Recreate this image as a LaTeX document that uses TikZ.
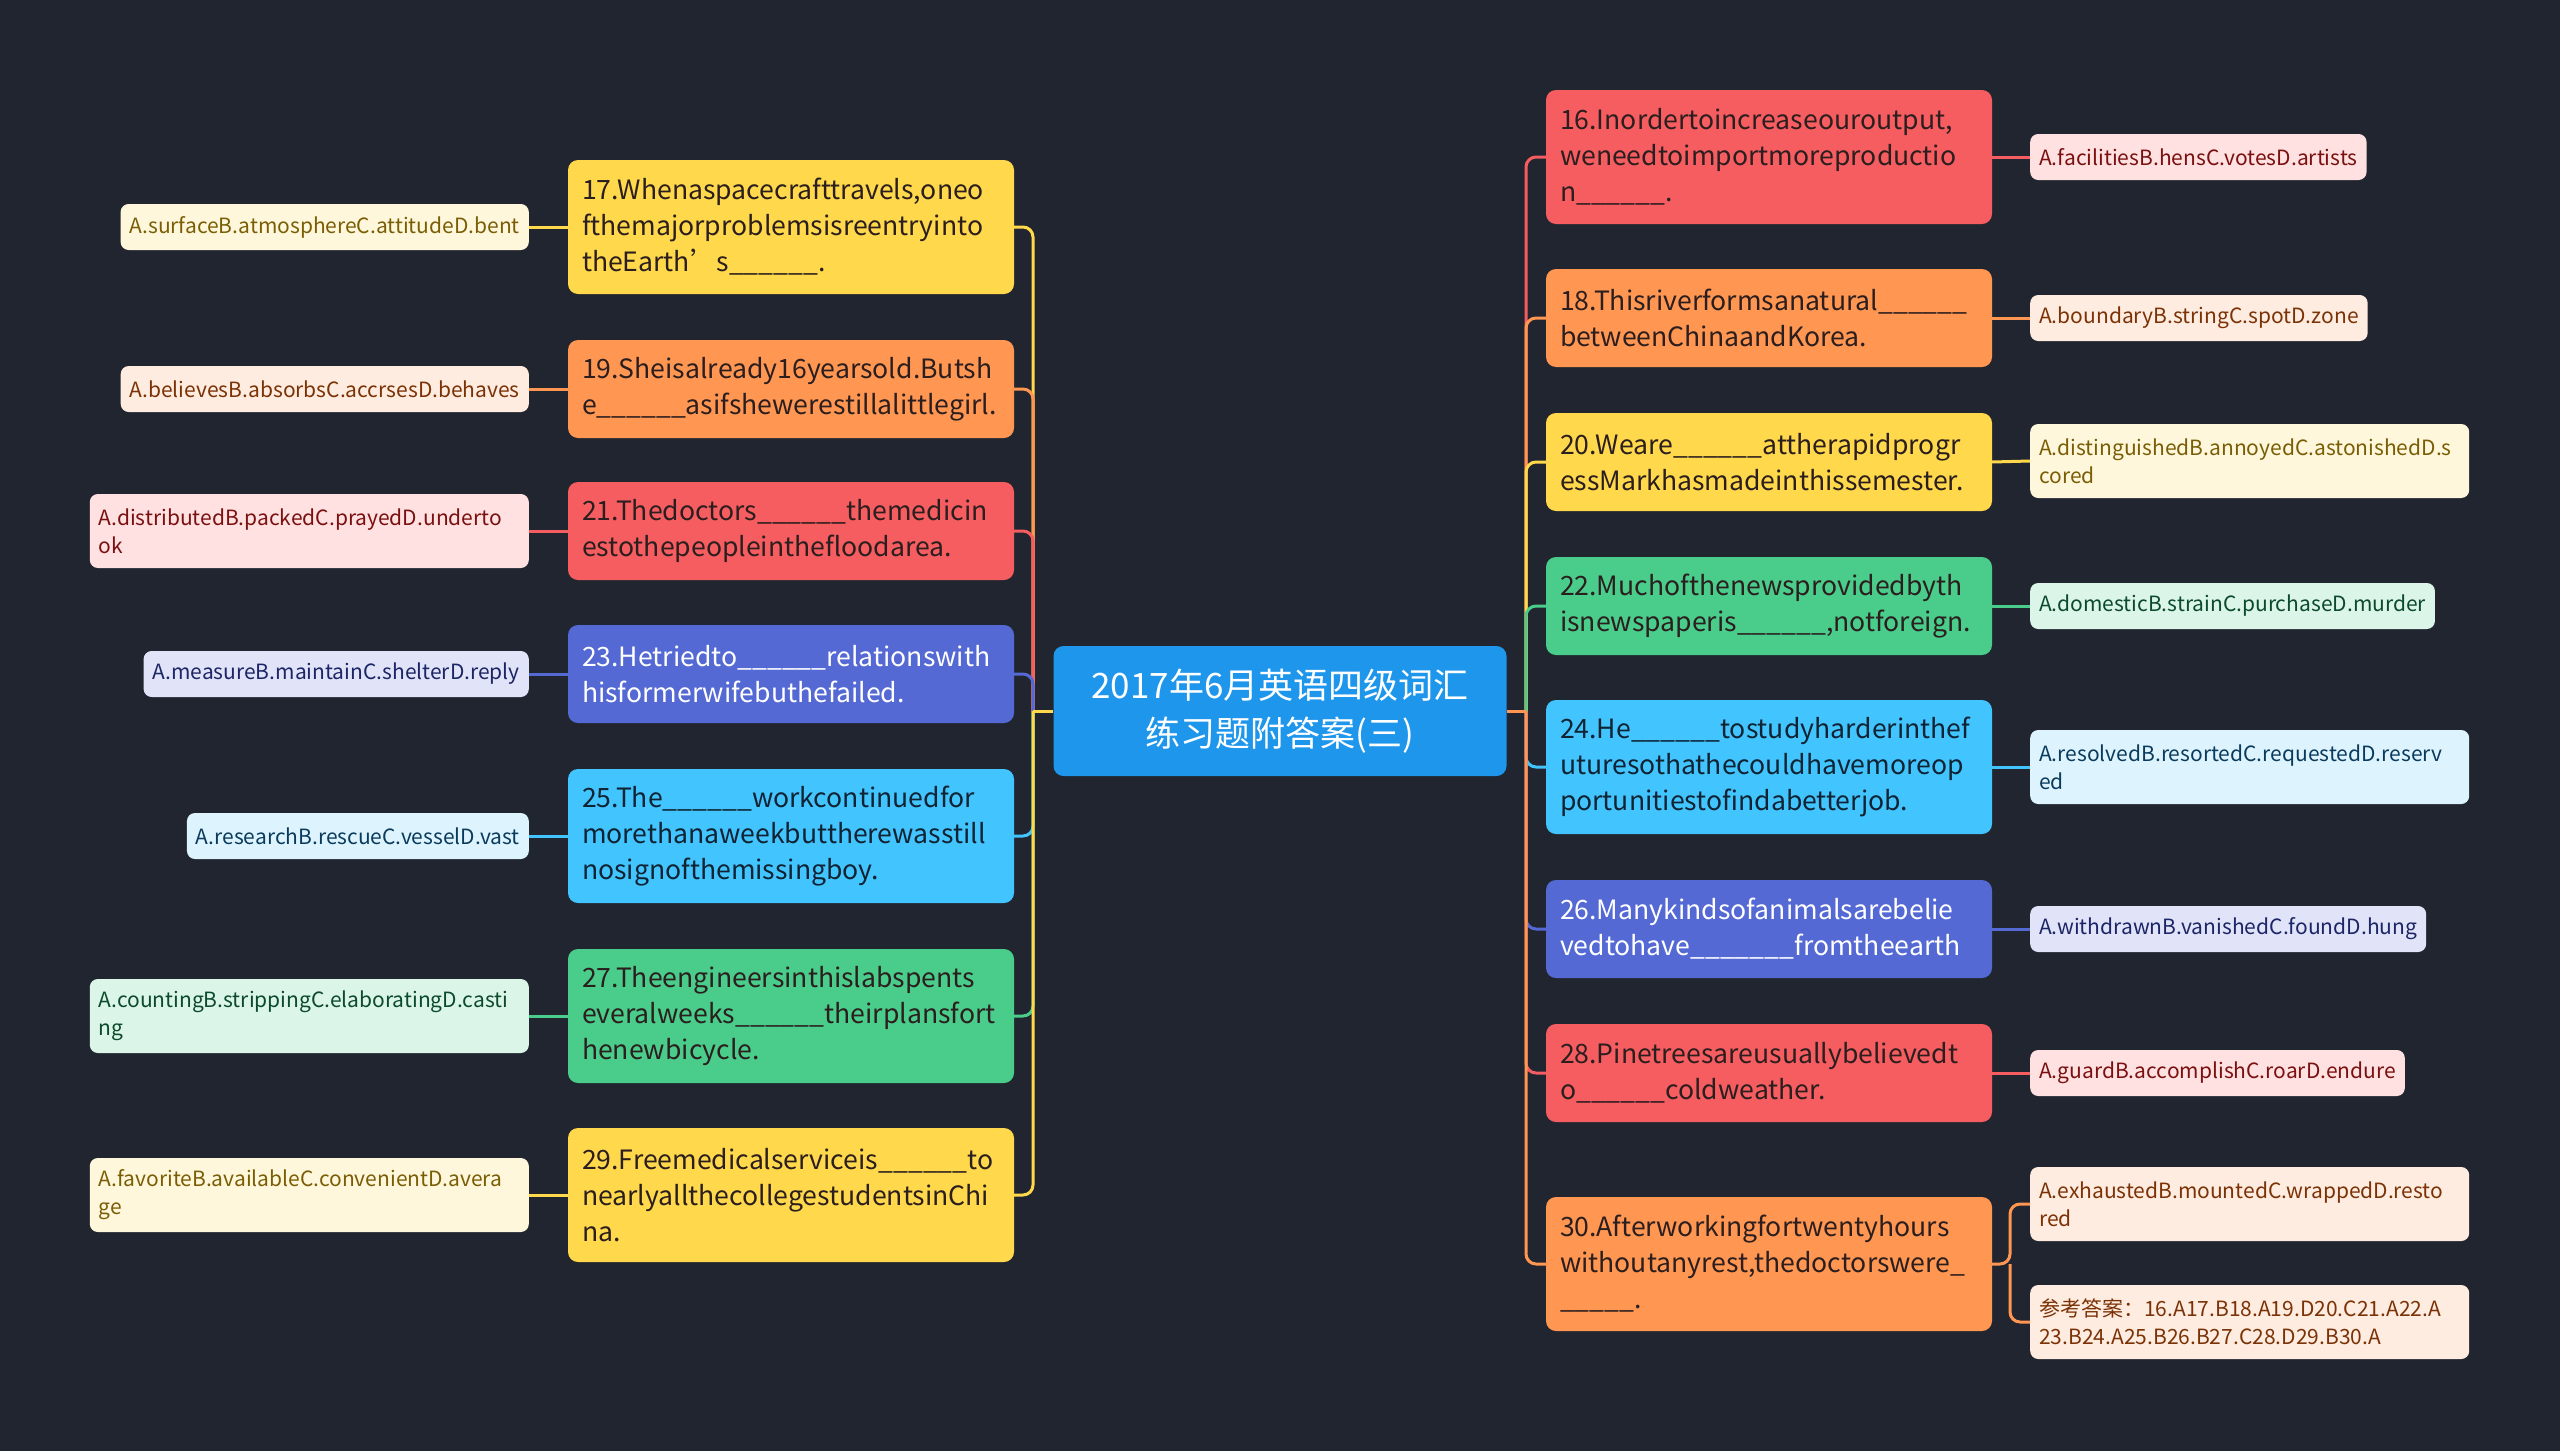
\documentclass[tikz,border=0pt]{standalone}
\usepackage{fontspec}
\setmainfont{Noto Sans CJK SC}
\usepackage{xcolor}
\usepackage{tikz}
\definecolor{bgdark}{HTML}{21252F}
\definecolor{cblue}{HTML}{1E96EC}
\definecolor{cred}{HTML}{F65D61}
\definecolor{corange}{HTML}{FF9652}
\definecolor{cyellow}{HTML}{FFD84B}
\definecolor{cgreen}{HTML}{4ACC8B}
\definecolor{cindigo}{HTML}{5469D4}
\definecolor{ccyan}{HTML}{42C4FF}
\definecolor{lred}{HTML}{FFE1E1}
\definecolor{lorange}{HTML}{FFECE0}
\definecolor{lyellow}{HTML}{FFF7DC}
\definecolor{lgreen}{HTML}{DCF5E9}
\definecolor{lindigo}{HTML}{E1E4F8}
\definecolor{lcyan}{HTML}{DDF4FE}
\definecolor{tred}{HTML}{7A1010}
\definecolor{torange}{HTML}{7A3206}
\definecolor{tyellow}{HTML}{7A5E05}
\definecolor{tgreen}{HTML}{0C4A2C}
\definecolor{tindigo}{HTML}{1C2566}
\definecolor{tcyan}{HTML}{0B3B5C}
\definecolor{qdark}{HTML}{2B1E1E}
\definecolor{qcyan}{HTML}{0F2333}
\tikzset{
  rootbox/.style={
    rounded corners=10pt,
    fill=cblue,
    text=white,
    align=center,
    font=\fontsize{35}{48}\selectfont,
    minimum width=453pt,
    minimum height=130pt
  },
  qbox/.style={
    rounded corners=10pt,
    text width=418pt,
    inner xsep=14pt,
    align=left,
    font=\fontsize{26.6}{36}\selectfont,
    minimum height=98pt
  },
  redq/.style={qbox, fill=cred, text=qdark},
  orangeq/.style={qbox, fill=corange, text=qdark},
  yellowq/.style={qbox, fill=cyellow, text=qdark},
  greenq/.style={qbox, fill=cgreen, text=qdark},
  indigoq/.style={qbox, fill=cindigo, text=white},
  cyanq/.style={qbox, fill=ccyan, text=qcyan},
  leafbox/.style={
    rounded corners=8pt,
    align=left,
    font=\fontsize{21}{28}\selectfont,
    inner xsep=9pt,
    minimum height=46pt
  },
  wideleaf/.style={text width=421pt, minimum height=74pt},
  redleaf/.style={leafbox, fill=lred, text=tred},
  orangeleaf/.style={leafbox, fill=lorange, text=torange},
  yellowleaf/.style={leafbox, fill=lyellow, text=tyellow},
  greenleaf/.style={leafbox, fill=lgreen, text=tgreen},
  indigoleaf/.style={leafbox, fill=lindigo, text=tindigo},
  cyanleaf/.style={leafbox, fill=lcyan, text=tcyan},
  link/.style={line width=3pt, rounded corners=10pt}
}

\begin{document}
\begin{tikzpicture}[x=1pt, y=-1pt]
  \useasboundingbox (0,0) rectangle (2560,1451);
  \fill[bgdark] (0,0) rectangle (2560,1451);

  % root
  \node[rootbox] (root) at (1280,711) {2017年6月英语四级词汇\\练习题附答案(三)};
  \coordinate (lspine) at (1033,711);
  \coordinate (rspine) at (1526,711);

  % left questions
  \node[yellowq, minimum height=134pt] (q17) at (791,227) {17.Whenaspacecrafttravels,oneo\\fthemajorproblemsisreentryinto\\theEarth’s\_\_\_\_\_\_.};
  \node[orangeq] (q19) at (791,389) {19.Sheisalready16yearsold.Butsh\\e\_\_\_\_\_\_asifshewerestillalittlegirl.};
  \node[redq] (q21) at (791,531) {21.Thedoctors\_\_\_\_\_\_themedicin\\estothepeopleinthefloodarea.};
  \node[indigoq] (q23) at (791,674) {23.Hetriedto\_\_\_\_\_\_relationswith\\hisformerwifebuthefailed.};
  \node[cyanq, minimum height=134pt] (q25) at (791,836) {25.The\_\_\_\_\_\_workcontinuedfor\\morethanaweekbuttherewasstill\\nosignofthemissingboy.};
  \node[greenq, minimum height=134pt] (q27) at (791,1016) {27.Theengineersinthislabspents\\everalweeks\_\_\_\_\_\_theirplansfort\\henewbicycle.};
  \node[yellowq, minimum height=134pt] (q29) at (791,1195) {29.Freemedicalserviceis\_\_\_\_\_\_to\\nearlyallthecollegestudentsinChi\\na.};

  % left options
  \node[yellowleaf, anchor=east] (a17) at (529,227) {A.surfaceB.atmosphereC.attitudeD.bent};
  \node[orangeleaf, anchor=east] (a19) at (529,389) {A.believesB.absorbsC.accrsesD.behaves};
  \node[redleaf, wideleaf, anchor=east] (a21) at (529,531) {A.distributedB.packedC.prayedD.underto\\ok};
  \node[indigoleaf, anchor=east] (a23) at (529,674) {A.measureB.maintainC.shelterD.reply};
  \node[cyanleaf, anchor=east] (a25) at (529,836) {A.researchB.rescueC.vesselD.vast};
  \node[greenleaf, wideleaf, anchor=east] (a27) at (529,1016) {A.countingB.strippingC.elaboratingD.casti\\ng};
  \node[yellowleaf, wideleaf, anchor=east] (a29) at (529,1195) {A.favoriteB.availableC.convenientD.avera\\ge};

  % right questions
  \node[redq, minimum height=134pt] (q16) at (1769,157) {16.Inordertoincreaseouroutput,\\weneedtoimportmoreproductio\\n\_\_\_\_\_\_.};
  \node[orangeq] (q18) at (1769,318) {18.Thisriverformsanatural\_\_\_\_\_\_\\betweenChinaandKorea.};
  \node[yellowq] (q20) at (1769,462) {20.Weare\_\_\_\_\_\_attherapidprogr\\essMarkhasmadeinthissemester.};
  \node[greenq] (q22) at (1769,606) {22.Muchofthenewsprovidedbyth\\isnewspaperis\_\_\_\_\_\_,notforeign.};
  \node[cyanq, minimum height=134pt] (q24) at (1769,767) {24.He\_\_\_\_\_\_tostudyharderinthef\\uturesothathecouldhavemoreop\\portunitiestofindabetterjob.};
  \node[indigoq] (q26) at (1769,929) {26.Manykindsofanimalsarebelie\\vedtohave\_\_\_\_\_\_\_fromtheearth};
  \node[redq] (q28) at (1769,1073) {28.Pinetreesareusuallybelievedt\\o\_\_\_\_\_\_coldweather.};
  \node[orangeq, minimum height=134pt] (q30) at (1769,1264) {30.Afterworkingfortwentyhours\\withoutanyrest,thedoctorswere\_\\\_\_\_\_\_.};

  % right options
  \node[redleaf, anchor=west] (a16) at (2030,157) {A.facilitiesB.hensC.votesD.artists};
  \node[orangeleaf, anchor=west] (a18) at (2030,318) {A.boundaryB.stringC.spotD.zone};
  \node[yellowleaf, wideleaf, anchor=west] (a20) at (2030,461) {A.distinguishedB.annoyedC.astonishedD.s\\cored};
  \node[greenleaf, anchor=west] (a22) at (2030,606) {A.domesticB.strainC.purchaseD.murder};
  \node[cyanleaf, wideleaf, anchor=west] (a24) at (2030,767) {A.resolvedB.resortedC.requestedD.reserv\\ed};
  \node[indigoleaf, anchor=west] (a26) at (2030,929) {A.withdrawnB.vanishedC.foundD.hung};
  \node[redleaf, anchor=west] (a28) at (2030,1073) {A.guardB.accomplishC.roarD.endure};
  \node[orangeleaf, wideleaf, anchor=west] (a30a) at (2030,1204) {A.exhaustedB.mountedC.wrappedD.resto\\red};
  \node[orangeleaf, wideleaf, anchor=west] (a30b) at (2030,1322) {参考答案：16.A17.B18.A19.D20.C21.A22.A\\23.B24.A25.B26.B27.C28.D29.B30.A};
  \coordinate (fork30) at (2010,1264);

  % branches
  \draw[link, draw=cyellow] (lspine) |- (q17.east);
  \draw[link, draw=corange] (lspine) |- (q19.east);
  \draw[link, draw=cred] (lspine) |- (q21.east);
  \draw[link, draw=cindigo] (lspine) |- (q23.east);
  \draw[link, draw=ccyan] (lspine) |- (q25.east);
  \draw[link, draw=cgreen] (lspine) |- (q27.east);
  \draw[link, draw=cyellow] (lspine) |- (q29.east);
  \draw[link, draw=cyellow] (root.west) -- (lspine);

  \draw[link, draw=cred] (rspine) |- (q16.west);
  \draw[link, draw=corange] (rspine) |- (q18.west);
  \draw[link, draw=cyellow] (rspine) |- (q20.west);
  \draw[link, draw=cgreen] (rspine) |- (q22.west);
  \draw[link, draw=ccyan] (rspine) |- (q24.west);
  \draw[link, draw=cindigo] (rspine) |- (q26.west);
  \draw[link, draw=cred] (rspine) |- (q28.west);
  \draw[link, draw=corange] (rspine) |- (q30.west);
  \draw[link, draw=corange] (root.east) -- (rspine);

  % options
  \draw[link, draw=cyellow] (q17.west) -- (a17.east);
  \draw[link, draw=corange] (q19.west) -- (a19.east);
  \draw[link, draw=cred] (q21.west) -- (a21.east);
  \draw[link, draw=cindigo] (q23.west) -- (a23.east);
  \draw[link, draw=ccyan] (q25.west) -- (a25.east);
  \draw[link, draw=cgreen] (q27.west) -- (a27.east);
  \draw[link, draw=cyellow] (q29.west) -- (a29.east);
  \draw[link, draw=cred] (q16.east) -- (a16.west);
  \draw[link, draw=corange] (q18.east) -- (a18.west);
  \draw[link, draw=cyellow] (q20.east) -- (a20.west);
  \draw[link, draw=cgreen] (q22.east) -- (a22.west);
  \draw[link, draw=ccyan] (q24.east) -- (a24.west);
  \draw[link, draw=cindigo] (q26.east) -- (a26.west);
  \draw[link, draw=cred] (q28.east) -- (a28.west);
  \draw[link, draw=corange] (q30.east) -- (fork30) |- (a30a.west);
  \draw[link, draw=corange] (fork30) |- (a30b.west);
\end{tikzpicture}
\end{document}
